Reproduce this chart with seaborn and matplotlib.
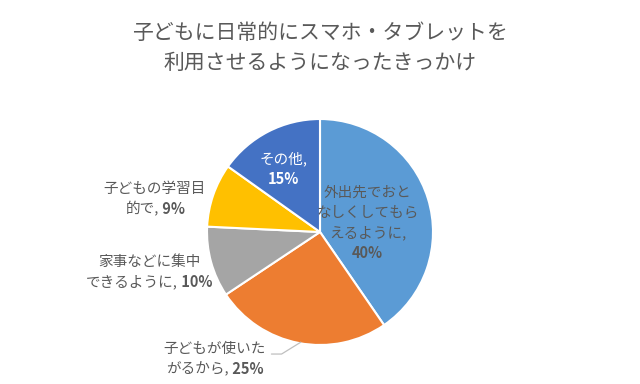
import numpy as np
import matplotlib.pyplot as plt
import seaborn as sns

sns.set_theme(style="white")
plt.rcParams['font.family'] = ['Noto Sans CJK JP', 'DejaVu Sans']

# data
categories = [["外出先でおと", "なしくしてもら", "えるように,"],
              ["子どもが使いた", "がるから,"],
              ["家事などに集中", "できるように,"],
              ["子どもの学習目", "的で,"],
              ["その他,"]]
values = [40, 25, 10, 9, 15]
colors = ["#5B9BD5", "#ED7D31", "#A5A5A5", "#FFC000", "#4472C4"]
title = "子どもに日常的にスマホ・タブレットを\n利用させるようになったきっかけ"

gray = "#595959"
# label centres in radius units, and whether the percent sits on its own line
label_pos = [(0.42, 0.08), (-0.93, -1.12), (-1.51, -0.35), (-1.46, 0.29), (-0.32, 0.56)]
label_col = [gray, gray, gray, gray, "white"]
pct_own_line = [True, False, False, False, True]

fig = plt.figure(figsize=(6.4, 3.84), dpi=100)
ax = fig.add_axes([0, 0, 1, 1])

wedges, _ = ax.pie(values, colors=colors, startangle=90, counterclock=False,
                   wedgeprops=dict(edgecolor="white", linewidth=1.5))
ax.set_xlim(-2.832, 2.832)
ax.set_ylim(-1.345, 2.053)
ax.set_aspect("equal")
ax.axis("off")

fs = 10.5
step = 20 * 72 / 100  # line step in points
renderer = fig.canvas.get_renderer()

for i, v in enumerate(values):
    x, y = label_pos[i]
    lines = list(categories[i])
    pct = f"{v}%"
    n = len(lines) + (1 if pct_own_line[i] else 0)
    col = label_col[i]
    for k in range(n):
        dy = ((n - 1) / 2 - k) * step
        if pct_own_line[i] and k == n - 1:
            ax.annotate(pct, (x, y), xytext=(0, dy), textcoords="offset points",
                        ha="center", va="center", fontsize=fs, color=col, fontweight="bold")
        elif not pct_own_line[i] and k == n - 1:
            # last line: normal text + bold percent, centred together
            t1 = ax.text(0, 0, lines[k], fontsize=fs)
            t2 = ax.text(0, 0, " " + pct, fontsize=fs, fontweight="bold")
            w1 = t1.get_window_extent(renderer).width * 72 / 100
            w2 = t2.get_window_extent(renderer).width * 72 / 100
            t1.remove()
            t2.remove()
            x0 = -(w1 + w2) / 2
            ax.annotate(lines[k], (x, y), xytext=(x0, dy), textcoords="offset points",
                        ha="left", va="center", fontsize=fs, color=col)
            ax.annotate(" " + pct, (x, y), xytext=(x0 + w1, dy), textcoords="offset points",
                        ha="left", va="center", fontsize=fs, color=col, fontweight="bold")
        else:
            ax.annotate(lines[k], (x, y), xytext=(0, dy), textcoords="offset points",
                        ha="center", va="center", fontsize=fs, color=col)

# leader line for 25% slice
w = wedges[1]
mid = np.deg2rad((w.theta1 + w.theta2) / 2 + 1)
ex, ey = 0.99 * np.cos(mid), 0.99 * np.sin(mid)
lx, ly = label_pos[1][0] + 0.5, label_pos[1][1] + 0.04
ax.plot([lx, lx + 0.09, ex], [ly, ly, ey], color="#BFBFBF", linewidth=0.9)

fig.text(0.5, 0.875, title, ha="center", va="center", fontsize=15, color=gray, linespacing=1.45)

fig.savefig("out.png", dpi=100)
